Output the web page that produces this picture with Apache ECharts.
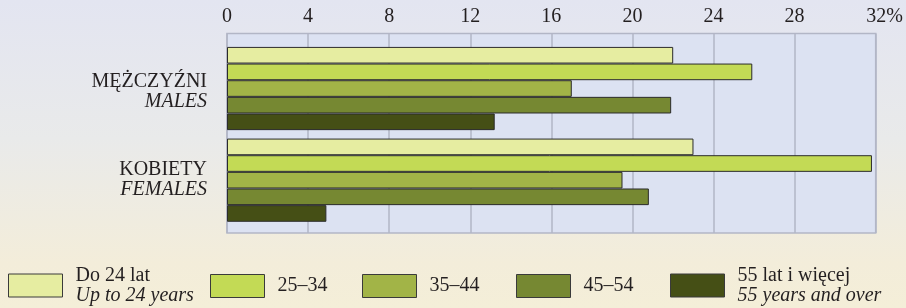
<!DOCTYPE html>
<html>
<head>
<meta charset="utf-8">
<script src="https://cdn.jsdelivr.net/npm/echarts@6/dist/echarts.min.js"></script>
<style>
  html, body { margin: 0; padding: 0; }
  body { background: linear-gradient(#e3e5f1 0%, #e9eaea 45%, #f3edda 85%, #f4eed8 100%); }
  #main { width: 906px; height: 308px; }
</style>
</head>
<body>
<div id="main"></div>
<script>
// kategorie (oś Y)
const categories = ['MĘŻCZYŹNI', 'KOBIETY'];
const categoriesEn = ['MALES', 'FEMALES'];

// grupy wieku
const ageGroups = ['Do 24 lat', '25–34', '35–44', '45–54', '55 lat i więcej'];
const ageGroupsEn = ['Up to 24 years', '', '', '', '55 years and over'];

// wartości w %, [mężczyźni, kobiety]
const upTo24 = [22.0, 23.0];
const age25to34 = [25.9, 31.8];
const age35to44 = [17.0, 19.5];
const age45to54 = [21.9, 20.8];
const age55plus = [13.2, 4.9];

const xMin = 0;
const xMax = 32;
const xStep = 4;

const colors = ['#e6eda1', '#c3da55', '#a2b447', '#768832', '#454f15'];
const seriesValues = [upTo24, age25to34, age35to44, age45to54, age55plus];
const legendLeft = [8, 210, 362, 516, 670];

const font = "'Liberation Serif', serif";
const ink = '#231f20';

const chart = echarts.init(document.getElementById('main'));

const series = ageGroups.map((name, i) => ({
  name,
  type: 'bar',
  xAxisIndex: 1,
  yAxisIndex: 1,
  data: seriesValues[i],
  barGap: '0%',
  barCategoryGap: '9.2%',
  itemStyle: { color: colors[i], borderColor: '#2b2b2b', borderWidth: 1 },
  emphasis: { disabled: true }
}));

const legends = ageGroups.map((name, i) => ({
  data: [name],
  left: legendLeft[i],
  top: ageGroupsEn[i] ? 265.5 : 274,
  padding: 0,
  icon: 'rect',
  itemWidth: 54,
  itemHeight: 23,
  selectedMode: false,
  itemStyle: { borderColor: '#3a3a3a', borderWidth: 1 },
  formatter: n => ageGroupsEn[i] ? n + '\n{i|' + ageGroupsEn[i] + '}' : n,
  textStyle: {
    fontFamily: font,
    fontSize: 20,
    lineHeight: 20,
    color: ink,
    padding: [0, 0, 0, 8],
    rich: {
      i: { fontFamily: font, fontSize: 20, lineHeight: 20, fontStyle: 'italic', color: ink }
    }
  }
}));

const option = {
  backgroundColor: 'transparent',
  animation: false,
  textStyle: { fontFamily: font },
  legend: legends,
  grid: [
    {
      left: 227, right: 30, top: 33.5, bottom: 75,
      show: true,
      backgroundColor: '#dce2f2',
      borderColor: '#b2b6c6',
      borderWidth: 1.5
    },
    { left: 227, right: 30, top: 42.7, bottom: 82 }
  ],
  xAxis: [
    {
      gridIndex: 0,
      type: 'value',
      position: 'top',
      min: xMin,
      max: xMax,
      interval: xStep,
      axisLine: { show: false },
      axisTick: { show: false },
      splitLine: { show: true, lineStyle: { color: '#b2b6c6', width: 1.5 } },
      axisLabel: {
        margin: 7,
        showMaxLabel: true,
        fontFamily: font,
        fontSize: 20,
        color: ink,
        formatter: v => v === xMax ? '{p|' + v + '%}' : String(v),
        rich: { p: { fontFamily: font, fontSize: 20, color: ink, padding: [0, 0, 0, 18] } }
      }
    },
    { gridIndex: 1, type: 'value', min: xMin, max: xMax, interval: xStep, show: false }
  ],
  yAxis: [
    { gridIndex: 0, type: 'value', show: false },
    {
      gridIndex: 1,
      type: 'category',
      inverse: true,
      data: categories.map((c, i) => ({
        value: c + '\n{i|' + categoriesEn[i] + '}',
        textStyle: { padding: i === 0 ? [7, 0, 0, 0] : 0 }
      })),
      axisLine: { show: false },
      axisTick: { show: false },
      axisLabel: {
        margin: 20,
        fontFamily: font,
        fontSize: 20,
        lineHeight: 20,
        color: ink,
        rich: { i: { fontFamily: font, fontSize: 20, lineHeight: 20, fontStyle: 'italic', color: ink } }
      }
    }
  ],
  series
};

chart.setOption(option);
</script>
</body>
</html>
